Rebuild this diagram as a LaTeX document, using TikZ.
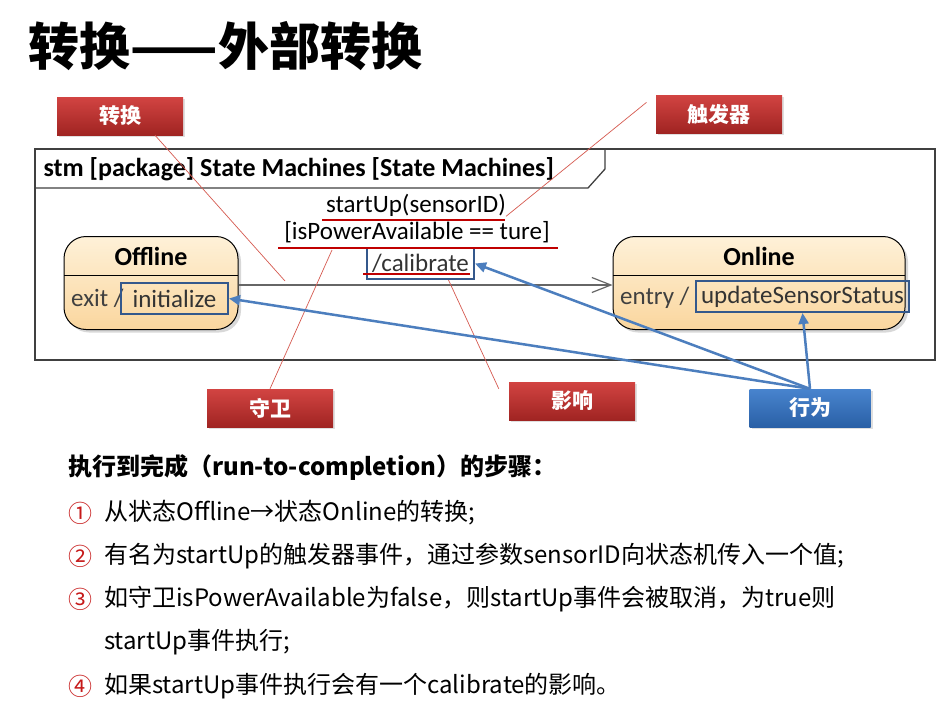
\documentclass[tikz,border=0pt]{standalone}
\usepackage{fontspec}
\setmainfont{Carlito}
\newfontfamily\cjk{Noto Sans CJK SC}
\usetikzlibrary{arrows.meta, shadows, positioning}
\definecolor{myredtop}{RGB}{210,68,66}
\definecolor{myredbot}{RGB}{160,36,34}
\definecolor{mybluetop}{RGB}{72,132,206}
\definecolor{mybluebot}{RGB}{42,96,166}
\definecolor{myarrow}{RGB}{76,126,190}
\definecolor{mybox}{RGB}{52,88,140}
\definecolor{mystatetop}{RGB}{254,241,216}
\definecolor{mystatebot}{RGB}{250,214,158}
\definecolor{myuline}{RGB}{192,0,0}
\definecolor{myleader}{RGB}{214,90,80}
\newcommand{\setfs}[1]{\fontsize{#1}{#1}\selectfont}
\tikzset{
  redlabel/.style = {rectangle, minimum width=126, minimum height=38, inner sep=0pt,
                     top color=myredtop, bottom color=myredbot, text=white,
                     font=\cjk\bfseries\setfs{21},
                     drop shadow={shadow xshift=2pt, shadow yshift=-2pt, opacity=.25}},
  bluelabel/.style = {redlabel, minimum width=121, top color=mybluetop, bottom color=mybluebot},
  state/.style = {rectangle, rounded corners=22, draw=black, line width=1pt,
                  minimum height=93, top color=mystatetop, bottom color=mystatebot,
                  drop shadow={shadow xshift=3pt, shadow yshift=-3pt, opacity=.3}},
  stname/.style = {font=\bfseries\setfs{26}},
  stbody/.style = {font=\setfs{25}, text=black!75, inner sep=0pt},
  hlbox/.style = {draw=mybox, line width=2pt, minimum height=31, inner sep=1pt,
                  font=\setfs{25}, text=black!80},
  trtext/.style = {font=\setfs{25}, inner sep=0pt},
  uline/.style = {myuline, line width=2.5pt},
  frame/.style = {draw=black!75, line width=1.3pt},
  trans/.style = {draw=black!60, line width=1.2pt, -{Straight Barb[length=19pt, width=15pt]}},
  leader/.style = {draw=myleader, line width=.7pt},
  behave/.style = {draw=myarrow, line width=2.5pt, -{Triangle[length=11pt, width=10pt]}},
  num/.style = {font=\cjk\setfs{24}, text=myuline!90},
  item/.style = {anchor=west, font=\cjk\setfs{24}, inner sep=0pt}
}
\begin{document}
\begin{tikzpicture}[x=1pt, y=-1pt]
\path[use as bounding box, fill=white] (0,0) rectangle (940,715);

% title
\node[anchor=west, font=\cjk\bfseries\setfs{51}] (title) at (25,46) {转换——外部转换};

% frame
\draw[frame] (35,149) rectangle (935,360);
\draw[frame] (35,188) -- (588,188) -- (605,169) -- (605,149);
\node[anchor=west, font=\bfseries\setfs{26}] (stm) at (40,169) {stm [package] State Machines [State Machines]};

% states
\node[state, minimum width=174] (off) at (151,283) {};
\node[state, minimum width=292] (on) at (759,283) {};
\draw[line width=1pt] (64,275) -- (238,275);
\draw[line width=1pt] (613,275) -- (905,275);
\node[stname] (offname) at (151,256) {Offline};
\node[stbody, anchor=west] (offexit) at (71,298) {exit /};
\node[hlbox, minimum width=107] (init) at (174.5,298.5) {initialize};
\node[stname] (onname) at (759,256) {Online};
\node[stbody, anchor=west] (onentry) at (620,298) {entry /};
\node[hlbox, minimum width=213] (upd) at (802.5,296.5) {updateSensorStatus};

% transition
\draw[trans] ([yshift=-2pt]off.east) -- ([yshift=-2pt]on.west);
\node[trtext] (trig) at (416,205) {startUp(sensorID)};
\node[trtext] (grd) at (417,232) {[isPowerAvailable == ture]};
\node[hlbox, minimum width=107] (eff) at (420.5,263.5) {/calibrate};
\draw[uline] (322,220) -- (505,220);
\draw[uline] (278,248) -- (558,248);
\draw[uline] (363,274) -- (470,274);

% labels
\node[redlabel] (convL) at (120,116) {转换};
\node[redlabel] (trigL) at (719,114) {触发器};
\node[redlabel] (grdL) at (270,408) {守卫};
\node[redlabel] (effL) at (572,401) {影响};
\node[bluelabel] (behL) at (810,408) {行为};

% leaders
\coordinate (convtip) at (285,281);
\coordinate (grdtip) at (332,250);
\draw[leader] ([xshift=35pt]convL.south) -- (convtip);
\draw[leader, shorten <=12pt] (trigL.north west) -- (trig.south east);
\draw[leader] (grdL.north) -- (grdtip);
\draw[leader] ([xshift=28pt]eff.south) -- ([xshift=-10pt, yshift=-7pt]effL.north west);

% behaviours
\draw[behave] (behL.north) -- (init.east);
\draw[behave] (behL.north) -- (eff.east);
\draw[behave] (behL.north) -- (upd.south);

% steps
\node[anchor=west, font=\cjk\bfseries\setfs{24}, inner sep=0pt] (steps) at (68,468) {执行到完成（run-to-completion）的步骤：};
\node[num] (n1) at (80,513) {①};
\node[num] (n2) at (80,556) {②};
\node[num] (n3) at (80,599) {③};
\node[num] (n4) at (80,686) {④};
\node[item] (s1) at (104,513) {从状态Offline→状态Online的转换;};
\node[item] (s2) at (104,556) {有名为startUp的触发器事件，通过参数sensorID向状态机传入一个值;};
\node[item] (s3) at (104,599) {如守卫isPowerAvailable为false，则startUp事件会被取消，为true则};
\node[item] (s3b) at (104,642) {startUp事件执行;};
\node[item] (s4) at (104,686) {如果startUp事件执行会有一个calibrate的影响。};
\end{tikzpicture}
\end{document}
